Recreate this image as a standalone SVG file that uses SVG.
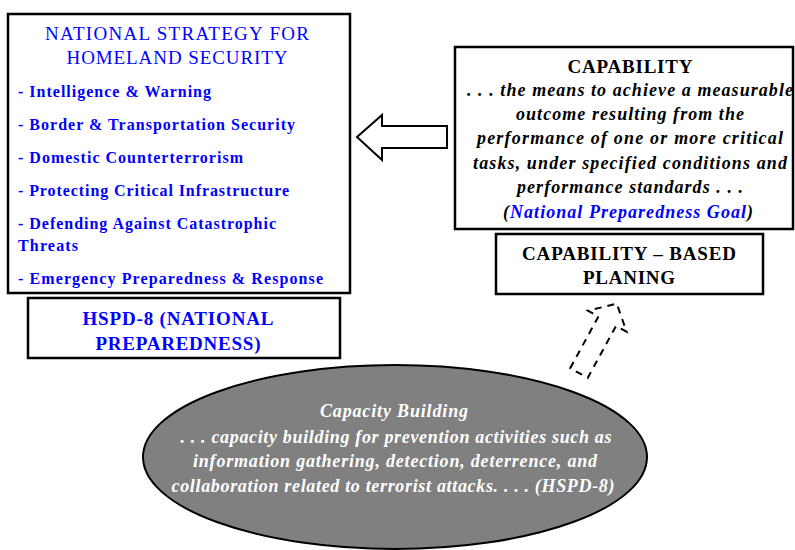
<svg xmlns="http://www.w3.org/2000/svg" width="795" height="550" viewBox="0 0 795 550">
<style>
.box{fill:#fff;stroke:#000;stroke-width:2.5}
text{font-family:'Liberation Serif','DejaVu Serif',serif}
.blue{fill:#0000ff}
.b{font-weight:bold}
.i{font-style:italic}
.c{text-anchor:middle}
</style>
<rect width="795" height="550" fill="#fff"/>
<g id="connectors">
<polygon points="357,137 382,115 382,126 447,126 447,148 382,148 382,160" fill="#fff" stroke="#000" stroke-width="2"/>
<g transform="translate(579,373) rotate(28.6)">
<polygon points="-10,0 -10,-59 -22,-59 0,-79 22,-59 10,-59 10,0" fill="none" stroke="#000" stroke-width="2" stroke-dasharray="7,6"/>
</g>
</g>
<g id="nshs">
<rect class="box" x="8" y="14" width="342" height="279"/>
<text class="blue c" x="177" y="40" font-size="19" textLength="264">NATIONAL STRATEGY FOR</text>
<text class="blue c" x="177" y="64" font-size="19" textLength="221">HOMELAND SECURITY</text>
<g class="blue b" font-size="16">
<text x="18" y="97" textLength="193">- Intelligence &amp; Warning</text>
<text x="18" y="130" textLength="277">- Border &amp; Transportation Security</text>
<text x="18" y="163" textLength="225">- Domestic Counterterrorism</text>
<text x="18" y="196" textLength="271">- Protecting Critical Infrastructure</text>
<text x="18" y="229" textLength="258">- Defending Against Catastrophic</text>
<text x="18" y="251" textLength="60">Threats</text>
<text x="18" y="284" textLength="305">- Emergency Preparedness &amp; Response</text>
</g>
</g>
<g id="hspd">
<rect class="box" x="28" y="298" width="312" height="60"/>
<text class="blue b c" x="178" y="325" font-size="19" textLength="191">HSPD-8 (NATIONAL</text>
<text class="blue b c" x="178" y="350" font-size="19" textLength="165">PREPAREDNESS)</text>
</g>
<g id="capability">
<rect class="box" x="455" y="47" width="338" height="182"/>
<text class="b c" x="630" y="73" font-size="19" textLength="125">CAPABILITY</text>
<g class="b i c" font-size="18">
<text x="630" y="96" textLength="326">. . . the means to achieve a measurable</text>
<text x="630" y="120" textLength="228">outcome resulting from the</text>
<text x="630" y="144" textLength="306">performance of one or more critical</text>
<text x="630" y="169" textLength="314">tasks, under specified conditions and</text>
<text x="630" y="193" textLength="226">performance standards . . .</text>
<text x="628" y="218" textLength="250">(<tspan class="blue">National Preparedness Goal</tspan>)</text>
</g>
</g>
<g id="cbp">
<rect class="box" x="496" y="234" width="267" height="60"/>
<text class="b c" x="629" y="260" font-size="19" textLength="214">CAPABILITY – BASED</text>
<text class="b c" x="629" y="284" font-size="19" textLength="92">PLANING</text>
</g>
<g id="capacity">
<ellipse cx="395" cy="457" rx="252" ry="92" fill="#808080" stroke="#000" stroke-width="2"/>
<g class="b i c" font-size="18" fill="#fff">
<text x="394" y="417" textLength="148">Capacity Building</text>
<text x="396" y="443" textLength="431">. . . capacity building for prevention activities such as</text>
<text x="395" y="467" textLength="404">information gathering, detection, deterrence, and</text>
<text x="393" y="492" textLength="443">collaboration related to terrorist attacks. . . . (HSPD-8)</text>
</g>
</g>
</svg>
